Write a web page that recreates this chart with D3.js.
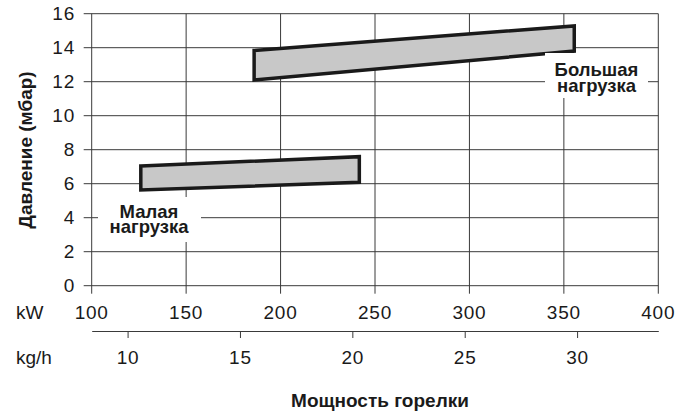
<!DOCTYPE html>
<html>
<head>
<meta charset="utf-8">
<script src="https://cdn.jsdelivr.net/npm/d3@7"></script>
<style>
	body { margin: 0; background: #fff; }
	svg text { font-family: "Liberation Sans", Arial, sans-serif; fill: #1a1a1a; }
</style>
</head>
<body>
<div id="chart"></div>
<script>
var kwTicks = [100, 150, 200, 250, 300, 350, 400];
var pressureTicks = [0, 2, 4, 6, 8, 10, 12, 14, 16];
var kghTicks = [10, 15, 20, 25, 30];
var kwPerKgh = 11.9;

// load bands: burner output (kW) at both ends, pressure (mbar) low and high
var smallLoadKw = [126, 241.7];
var smallLoadLow = [5.63, 6.08];
var smallLoadHigh = [7.04, 7.59];
var bigLoadKw = [186, 355.5];
var bigLoadLow = [12.1, 13.8];
var bigLoadHigh = [13.84, 15.28];

var width = 688, height = 411;
var plot = {left: 91.7, right: 658.3, top: 13.7, bottom: 285.7};
var gridColor = "#3a3a3a";
var tickFont = 19, tickSpacing = 0.8;

var svg = d3.select("#chart").append("svg")
	.attr("width", width)
	.attr("height", height);

var x = d3.scaleLinear().domain([100, 400]).range([plot.left, plot.right]);
var y = d3.scaleLinear().domain([0, 16]).range([plot.bottom, plot.top]);
var xKgh = d3.scaleLinear().domain([100 / kwPerKgh, 400 / kwPerKgh]).range([plot.left, plot.right]);

// horizontal grid (ticks stick out to the left)
svg.append("g").selectAll("line")
	.data(pressureTicks)
	.enter()
	.append("line")
	.attr("x1", plot.left - 8)
	.attr("x2", plot.right)
	.attr("y1", function(d) {return y(d)})
	.attr("y2", function(d) {return y(d)})
	.attr("stroke", gridColor)
	.attr("stroke-width", 1);

// vertical grid (ticks stick out below)
svg.append("g").selectAll("line")
	.data(kwTicks)
	.enter()
	.append("line")
	.attr("x1", function(d) {return x(d)})
	.attr("x2", function(d) {return x(d)})
	.attr("y1", plot.top)
	.attr("y2", plot.bottom + 8)
	.attr("stroke", gridColor)
	.attr("stroke-width", 1);

svg.append("g").selectAll("text")
	.data(pressureTicks)
	.enter()
	.append("text")
	.attr("x", 75)
	.attr("y", function(d) {return y(d)})
	.attr("dy", "0.35em")
	.attr("text-anchor", "end")
	.attr("font-size", tickFont)
	.attr("letter-spacing", tickSpacing)
	.text(function(d) {return d});

svg.append("g").selectAll("text")
	.data(kwTicks)
	.enter()
	.append("text")
	.attr("x", function(d) {return x(d)})
	.attr("y", 312)
	.attr("dy", "0.35em")
	.attr("text-anchor", "middle")
	.attr("font-size", tickFont)
	.attr("letter-spacing", tickSpacing)
	.text(function(d) {return d});

svg.append("text")
	.attr("x", 16)
	.attr("y", 312)
	.attr("dy", "0.35em")
	.attr("font-size", tickFont)
	.text("kW");

// second axis in kg/h
var kghAxis = svg.append("g")
	.attr("transform", "translate(0," + 331 + ")")
	.call(d3.axisBottom(xKgh).tickValues(kghTicks).tickSize(7).tickSizeOuter(0).tickPadding(13));
kghAxis.select(".domain").attr("stroke", gridColor);
kghAxis.selectAll(".tick line").attr("stroke", gridColor);
kghAxis.selectAll(".tick text")
	.attr("font-size", tickFont)
	.attr("letter-spacing", tickSpacing)
	.attr("font-family", "Liberation Sans, Arial, sans-serif")
	.attr("fill", "#1a1a1a");

svg.append("text")
	.attr("x", 16)
	.attr("y", 357)
	.attr("dy", "0.35em")
	.attr("font-size", tickFont)
	.text("kg/h");

// axis titles
svg.append("text")
	.attr("x", 380)
	.attr("y", 406.5)
	.attr("text-anchor", "middle")
	.attr("font-size", 19)
	.attr("font-weight", "bold")
	.text("Мощность горелки");

svg.append("text")
	.attr("transform", "translate(32," + 150 + ") rotate(-90)")
	.attr("text-anchor", "middle")
	.attr("font-size", 19)
	.attr("font-weight", "bold")
	.text("Давление (мбар)");

// bands
var bands = [
	{kw: smallLoadKw, low: smallLoadLow, high: smallLoadHigh},
	{kw: bigLoadKw, low: bigLoadLow, high: bigLoadHigh}
];

svg.append("g").selectAll("path")
	.data(bands)
	.enter()
	.append("path")
	.attr("d", function(d) {
		return "M" + x(d.kw[0]) + "," + y(d.high[0]) +
			"L" + x(d.kw[1]) + "," + y(d.high[1]) +
			"L" + x(d.kw[1]) + "," + y(d.low[1]) +
			"L" + x(d.kw[0]) + "," + y(d.low[0]) + "Z";
	})
	.attr("fill", "#c8c8c8")
	.attr("stroke", "#1a1a1a")
	.attr("stroke-width", 3.5)
	.attr("stroke-linejoin", "miter");

// load labels on white boxes
var labels = [
	{lines: ["Малая", "нагрузка"], cx: 149, base: 217.5, box: [98, 197, 103, 45]},
	{lines: ["Большая", "нагрузка"], cx: 596.5, base: 75.8, box: [545, 53, 103, 45]}
];

labels.forEach(function(l) {
	svg.append("rect")
		.attr("x", l.box[0])
		.attr("y", l.box[1])
		.attr("width", l.box[2])
		.attr("height", l.box[3])
		.attr("fill", "#fff");
	l.lines.forEach(function(t, i) {
		svg.append("text")
			.attr("x", l.cx)
			.attr("y", l.base + i * 15.8)
			.attr("text-anchor", "middle")
			.attr("font-size", 18.5)
			.attr("font-weight", "bold")
			.text(t);
	});
});
</script>
</body>
</html>
